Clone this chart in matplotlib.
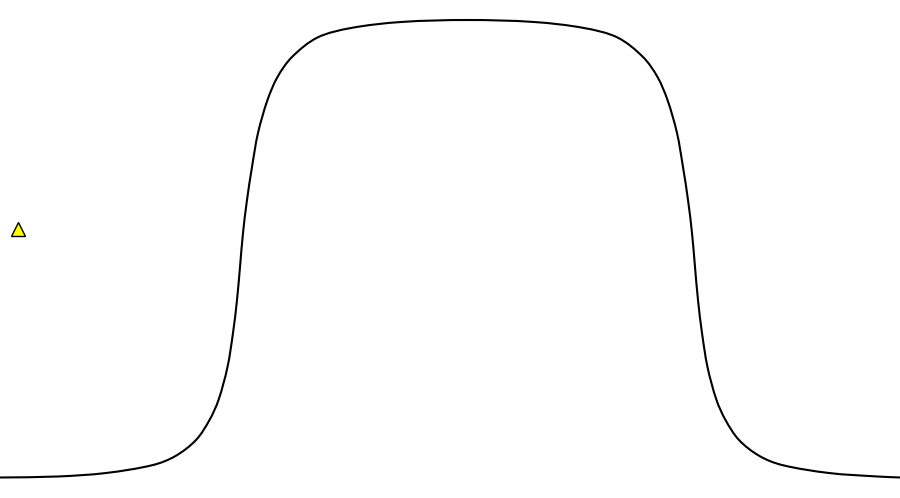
import math
import matplotlib
matplotlib.use("Agg")
import matplotlib.pyplot as plt
from matplotlib.path import Path
from matplotlib.patches import PathPatch

# Curve points (x position, pixel row)
curve_x = [0, 57.5, 106, 153, 175.5, 196, 209.5, 218.5, 227.5, 233, 237,
           240, 243, 247, 252, 258, 267.5, 277.5, 292, 317.5, 351, 401, 467.5,
           534, 584, 617.5, 643, 657.5, 667.5, 677, 683, 688, 692, 695, 698, 702,
           707.5, 716.5, 725.5, 739, 759.5, 782, 829, 877.5, 900]
curve_y_px = [477.5, 476.5, 473, 465, 456, 440, 420, 400, 367, 333, 300,
              267, 233, 200, 167, 133, 100, 77, 57, 37.5, 28, 22, 20,
              22, 28, 37.5, 57, 77, 100, 133, 167, 200, 233, 267, 300, 333,
              367, 400, 420, 440, 456, 465, 473, 476.5, 477.5]
curve_y = [498 - v for v in curve_y_px]

# Marker point
marker_x = [17.5]
marker_y = [498 - 229]


def smooth_path(xs, ys):
    """Chord-length Catmull-Rom smooth path through the points (cubic Beziers)."""
    pts = list(zip(xs, ys))
    n = len(pts)
    d = [math.hypot(pts[i + 1][0] - pts[i][0], pts[i + 1][1] - pts[i][1])
         for i in range(n - 1)]
    tang = []
    for i in range(n):
        if i == 0:
            a, b, L = pts[0], pts[1], d[0]
        elif i == n - 1:
            a, b, L = pts[n - 2], pts[n - 1], d[n - 2]
        else:
            a, b, L = pts[i - 1], pts[i + 1], d[i - 1] + d[i]
        tang.append(((b[0] - a[0]) / L, (b[1] - a[1]) / L))
    verts = [pts[0]]
    codes = [Path.MOVETO]
    for i in range(n - 1):
        p1, p2 = pts[i], pts[i + 1]
        c1 = (p1[0] + tang[i][0] * d[i] / 3, p1[1] + tang[i][1] * d[i] / 3)
        c2 = (p2[0] - tang[i + 1][0] * d[i] / 3, p2[1] - tang[i + 1][1] * d[i] / 3)
        verts += [c1, c2, p2]
        codes += [Path.CURVE4] * 3
    return Path(verts, codes)


fig = plt.figure(figsize=(9, 4.98), dpi=100)
ax = fig.add_axes([0, 0, 1, 1])
ax.add_patch(PathPatch(smooth_path(curve_x, curve_y), facecolor="none",
                       edgecolor="black", lw=1.5, joinstyle="round"))
ax.plot(marker_x, marker_y, linestyle="none", marker="^", markersize=10.5,
        markerfacecolor="#ffff00", markeredgecolor="black", markeredgewidth=1.0)
ax.set_xlim(0, 900)
ax.set_ylim(0, 498)
ax.axis("off")
fig.savefig("out.png", dpi=100)
